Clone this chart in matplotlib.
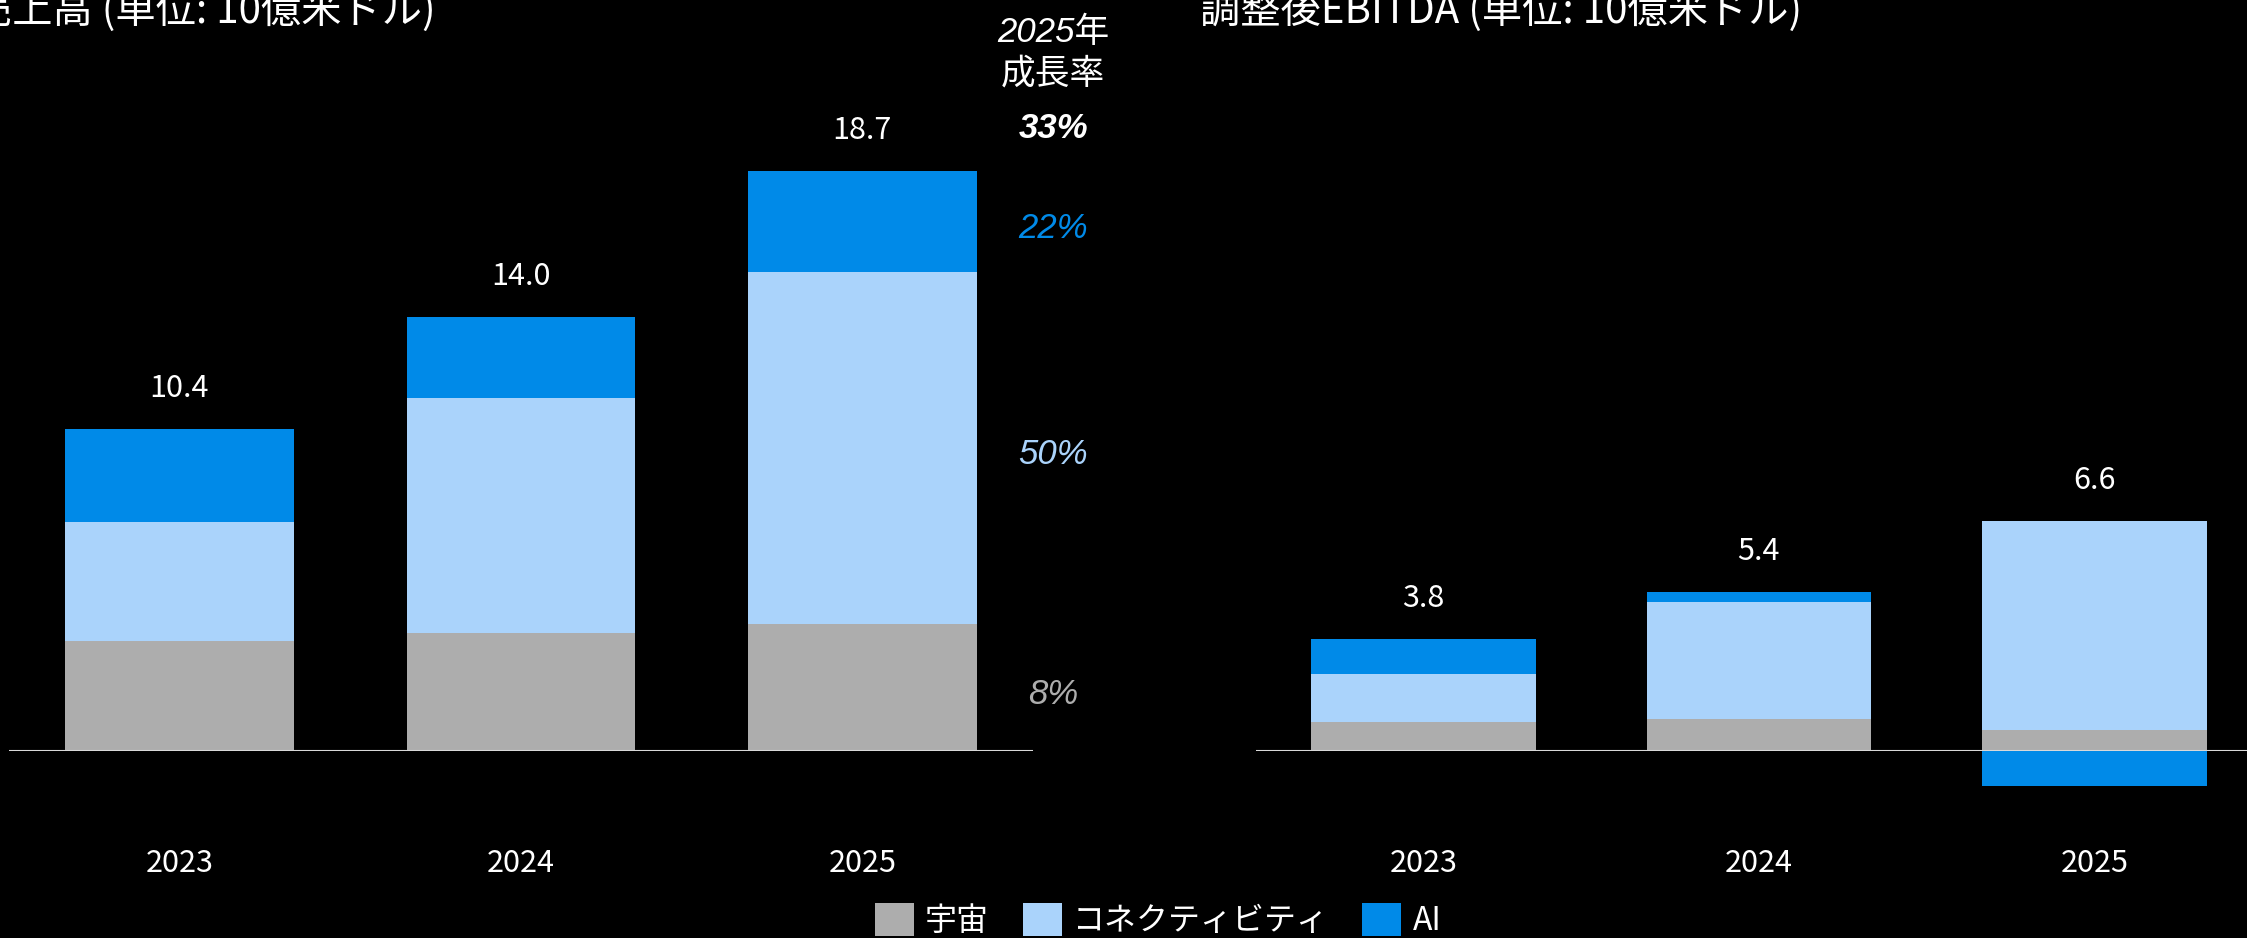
import matplotlib
matplotlib.use("Agg")
import matplotlib.pyplot as plt
from matplotlib.patches import Patch

# data
years = ["2023", "2024", "2025"]
segments = ["宇宙", "コネクティビティ", "AI"]
seg_colors = ["#adadad", "#aad3fb", "#008ae8"]

rev_space = [3.55, 3.8, 4.1]
rev_conn = [3.85, 7.6, 11.35]
rev_ai = [3.0, 2.6, 3.25]
rev_total = [10.4, 14.0, 18.7]
growth_seg = ["8%", "50%", "22%"]
growth_total = "33%"

ebitda_space = [1.0, 1.1, 0.7]
ebitda_conn = [1.6, 3.95, 7.1]
ebitda_ai = [1.2, 0.35, -1.2]
ebitda_total = [3.8, 5.4, 6.6]

plt.rcParams['font.family'] = ['Noto Sans CJK JP', 'DejaVu Sans']
ital = ['Liberation Sans', 'Noto Sans CJK JP']

W, H = 2247, 938
fig = plt.figure(figsize=(W / 100, H / 100), dpi=100, facecolor="black")

BAR_W = 0.67


def make_axes(x0, x1, y_base, px_per_unit):
    ax = fig.add_axes([x0 / W, (H - y_base) / H, (x1 - x0) / W, y_base / H])
    ax.set_facecolor("none")
    ax.set_xlim(-0.5, 2.5)
    ax.set_ylim(0, y_base / px_per_unit)
    for s in ax.spines.values():
        s.set_visible(False)
    ax.set_yticks([])
    ax.set_xticks(range(len(years)), years)
    ax.tick_params(axis="x", length=0, pad=70, labelsize=22, labelcolor="white")
    ax.axhline(0, color="#d9d9d9", lw=1.5, zorder=4)
    return ax


def stacked(ax, series, totals):
    pos = [0.0] * len(years)
    neg = [0.0] * len(years)
    mids = []
    for vals, col in zip(series, seg_colors):
        m = []
        for i, v in enumerate(vals):
            base = pos[i] if v >= 0 else neg[i]
            ax.bar(i, v, bottom=base, width=BAR_W, color=col, lw=0,
                   zorder=3, clip_on=False)
            m.append(base + v / 2)
            if v >= 0:
                pos[i] += v
            else:
                neg[i] += v
        mids.append(m)
    for i, t in enumerate(totals):
        ax.annotate(f"{t:.1f}", xy=(i, pos[i]), xytext=(0, 23),
                    textcoords="offset points", ha="center", va="baseline",
                    color="white", fontsize=22)
    return pos, mids


# left: revenue
ax1 = make_axes(8.75, 1033, 751, 31)
top1, mids1 = stacked(ax1, [rev_space, rev_conn, rev_ai], rev_total)
last = len(years) - 1
gx = last + BAR_W / 2
for k, txt in enumerate(growth_seg):
    ax1.annotate(txt, xy=(gx, mids1[k][last]), xytext=(55, -5),
                 textcoords="offset points", ha="center", va="center",
                 color=seg_colors[k], fontsize=25, style="italic", family=ital,
                 annotation_clip=False)
ax1.annotate(growth_total, xy=(gx, top1[last]), xytext=(55, 31),
             textcoords="offset points", ha="center", va="center",
             color="white", fontsize=25, style="italic", weight="bold",
             family=ital, annotation_clip=False)
ax1.annotate("2025年\n成長率", xy=(gx, top1[last]), xytext=(55, 85),
             textcoords="offset points", ha="center", va="center",
             color="white", fontsize=25, style="italic", family=ital,
             linespacing=1.3, annotation_clip=False)

# right: adjusted EBITDA
ax2 = make_axes(1255.75, 2262, 751, 29.5)
stacked(ax2, [ebitda_space, ebitda_conn, ebitda_ai], ebitda_total)

fig.text(436 / W, (H - 23) / H, "売上高 (単位: 10億米ドル)", ha="right",
         va="baseline", fontsize=29, color="white")
fig.text(1200 / W, (H - 23) / H, "調整後EBITDA (単位: 10億米ドル)", ha="left",
         va="baseline", fontsize=29, color="white")

handles = [Patch(facecolor=c, lw=0) for c in seg_colors]
fig.legend(handles, segments, loc="upper center",
           bbox_to_anchor=(1158 / W, 1 - 887 / H), ncol=3, frameon=False,
           fontsize=23, handlelength=1.22, handleheight=1.22,
           handletextpad=0.35, columnspacing=1.05, borderpad=0,
           labelcolor="white")

fig.savefig("out.png", dpi=100, facecolor="black")
